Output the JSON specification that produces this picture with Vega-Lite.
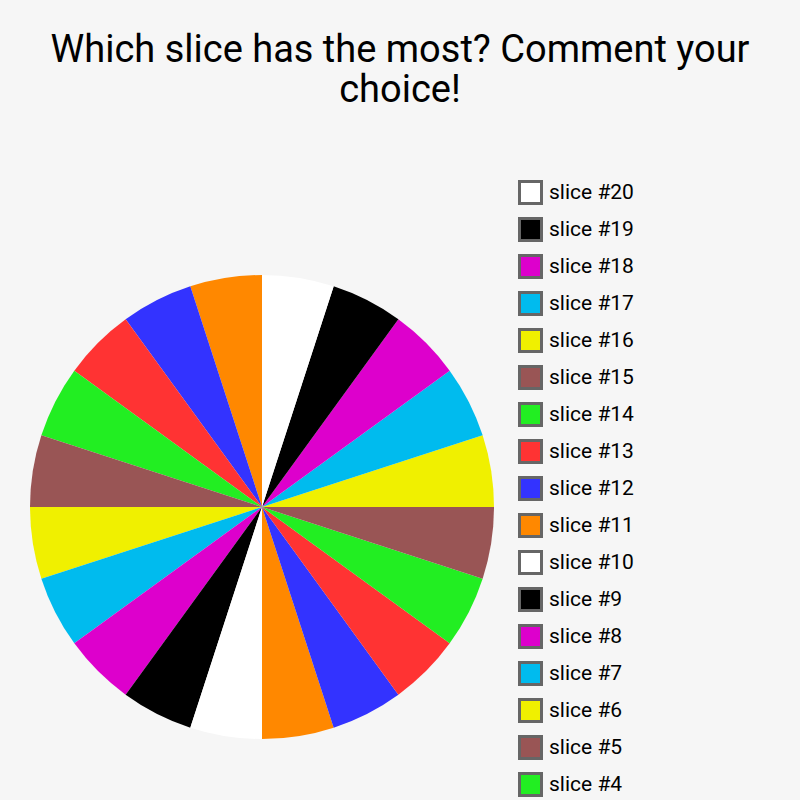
{
  "$schema": "https://vega.github.io/schema/vega-lite/v6.json",
  "autosize": {"type": "none"},
  "width": 464,
  "height": 464,
  "padding": {"left": 30, "top": 275, "right": 306, "bottom": 61},
  "background": "#f6f6f6",
  "title": {
    "text": ["Which slice has the most? Comment your", "choice!"],
    "font": "Roboto",
    "fontSize": 38,
    "fontWeight": "normal",
    "color": "#000000",
    "anchor": "middle",
    "dx": 138,
    "lineHeight": 40,
    "offset": 70
  },
  "data": {
    "values": [
      {"slice": "slice #1", "num": 1, "value": 1},
      {"slice": "slice #2", "num": 2, "value": 1},
      {"slice": "slice #3", "num": 3, "value": 1},
      {"slice": "slice #4", "num": 4, "value": 1},
      {"slice": "slice #5", "num": 5, "value": 1},
      {"slice": "slice #6", "num": 6, "value": 1},
      {"slice": "slice #7", "num": 7, "value": 1},
      {"slice": "slice #8", "num": 8, "value": 1},
      {"slice": "slice #9", "num": 9, "value": 1},
      {"slice": "slice #10", "num": 10, "value": 1},
      {"slice": "slice #11", "num": 11, "value": 1},
      {"slice": "slice #12", "num": 12, "value": 1},
      {"slice": "slice #13", "num": 13, "value": 1},
      {"slice": "slice #14", "num": 14, "value": 1},
      {"slice": "slice #15", "num": 15, "value": 1},
      {"slice": "slice #16", "num": 16, "value": 1},
      {"slice": "slice #17", "num": 17, "value": 1},
      {"slice": "slice #18", "num": 18, "value": 1},
      {"slice": "slice #19", "num": 19, "value": 1},
      {"slice": "slice #20", "num": 20, "value": 1}
    ]
  },
  "mark": {"type": "arc", "outerRadius": 232, "stroke": null},
  "encoding": {
    "theta": {"field": "value", "type": "quantitative", "stack": true},
    "order": {"field": "num", "type": "quantitative", "sort": "descending"},
    "color": {
      "field": "slice",
      "type": "nominal",
      "scale": {
        "domain": [
          "slice #20", "slice #19", "slice #18", "slice #17", "slice #16",
          "slice #15", "slice #14", "slice #13", "slice #12", "slice #11",
          "slice #10", "slice #9", "slice #8", "slice #7", "slice #6",
          "slice #5", "slice #4", "slice #3", "slice #2", "slice #1"
        ],
        "range": [
          "#ffffff", "#000000", "#dd00cc", "#00bbee", "#f0f000",
          "#995555", "#22ee22", "#ff3333", "#3333ff", "#ff8800",
          "#ffffff", "#000000", "#dd00cc", "#00bbee", "#f0f000",
          "#995555", "#22ee22", "#ff3333", "#3333ff", "#ff8800"
        ]
      },
      "legend": {
        "title": null,
        "orient": "none",
        "legendX": 488,
        "legendY": -95,
        "symbolType": "square",
        "symbolSize": 484,
        "symbolStrokeColor": "#666666",
        "symbolStrokeWidth": 3,
        "labelFont": "Roboto",
        "labelFontSize": 21,
        "labelColor": "#000000",
        "labelOffset": 6,
        "rowPadding": 2,
        "labelLimit": 300
      }
    }
  },
  "config": {
    "view": {"stroke": null}
  }
}
